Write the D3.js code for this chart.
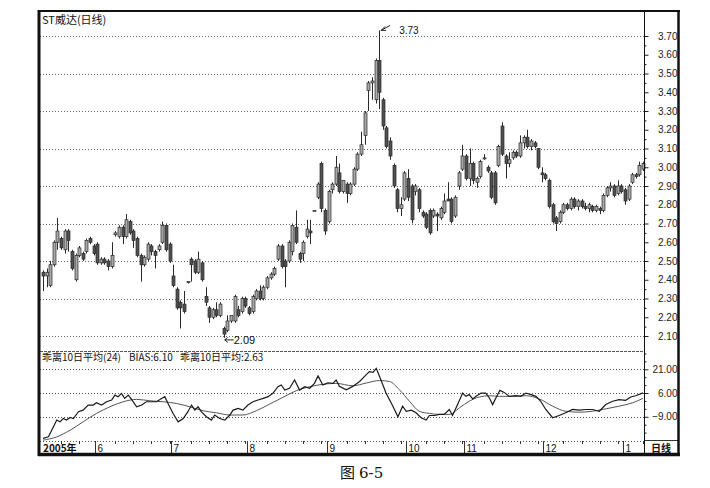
<!DOCTYPE html>
<html><head><meta charset="utf-8">
<script src="https://cdn.jsdelivr.net/npm/d3@7/dist/d3.min.js"></script>
<style>body{margin:0;background:#fff;} svg{display:block;}</style>
</head><body>
<svg id="c" width="710" height="488"></svg>
<script>
// ---- data ----
const opens  = [2.44,2.42,2.37,2.48,2.60,2.62,2.56,2.66,2.55,2.40,2.53,2.54,2.55,2.62,2.58,2.59,2.49,2.51,2.50,2.47,2.64,2.63,2.68,2.63,2.71,2.66,2.62,2.53,2.48,2.51,2.58,2.55,2.56,2.60,2.69,2.59,2.42,2.35,2.28,2.27,2.39,2.51,2.50,2.44,2.49,2.31,2.25,2.20,2.24,2.21,2.14,2.13,2.18,2.18,2.24,2.23,2.30,2.25,2.23,2.30,2.34,2.30,2.36,2.41,2.43,2.51,2.58,2.50,2.50,2.55,2.68,2.54,2.54,2.63,2.66,2.77,2.84,3.02,2.77,2.71,2.88,2.91,2.97,2.87,2.91,2.86,2.91,2.99,3.07,3.17,3.41,3.45,3.36,3.57,3.36,3.21,3.14,3.01,2.88,2.78,2.83,2.94,2.90,2.87,2.88,2.76,2.75,2.77,2.74,2.75,2.73,2.76,2.83,2.83,2.74,2.90,2.99,3.06,2.94,3.02,2.92,2.95,3.05,3.00,2.97,2.97,3.01,3.22,3.06,3.02,3.05,3.08,3.06,3.13,3.16,3.11,3.13,3.10,2.97,2.96,2.93,2.80,2.73,2.71,2.76,2.80,2.78,2.83,2.79,2.82,2.79,2.78,2.79,2.77,2.78,2.77,2.85,2.89,2.90,2.86,2.90,2.88,2.83,2.92,2.96,2.96,2.99];
const highs  = [2.45,2.46,2.50,2.61,2.73,2.63,2.67,2.67,2.56,2.54,2.58,2.55,2.62,2.63,2.59,2.60,2.52,2.52,2.51,2.60,2.66,2.69,2.69,2.75,2.72,2.67,2.63,2.54,2.53,2.60,2.59,2.56,2.59,2.71,2.70,2.60,2.48,2.36,2.29,2.34,2.39,2.52,2.51,2.55,2.50,2.36,2.26,2.25,2.28,2.28,2.15,2.21,2.21,2.32,2.26,2.31,2.31,2.26,2.32,2.35,2.37,2.37,2.42,2.44,2.47,2.59,2.59,2.51,2.61,2.70,2.77,2.55,2.61,2.72,2.72,2.77,2.92,3.03,2.78,2.88,2.92,3.06,3.02,2.93,2.92,2.92,3.00,3.08,3.19,3.30,3.46,3.48,3.58,3.73,3.37,3.22,3.16,3.02,2.89,2.84,2.98,2.99,2.91,2.91,2.89,2.77,2.76,2.78,2.78,2.76,2.79,2.86,2.92,2.84,2.85,2.98,3.12,3.07,3.10,3.03,2.95,3.04,3.07,3.01,2.98,2.98,3.12,3.24,3.07,3.08,3.09,3.09,3.17,3.17,3.20,3.15,3.14,3.10,3.00,2.97,2.94,2.81,2.74,2.77,2.81,2.81,2.84,2.84,2.83,2.83,2.81,2.81,2.80,2.80,2.79,2.86,2.90,2.92,2.91,2.93,2.91,2.89,2.91,2.97,2.97,3.03,3.03];
const lows   = [2.34,2.36,2.36,2.47,2.56,2.56,2.54,2.55,2.45,2.39,2.52,2.50,2.54,2.59,2.53,2.48,2.48,2.48,2.45,2.46,2.63,2.62,2.59,2.62,2.64,2.57,2.52,2.39,2.47,2.50,2.53,2.46,2.55,2.59,2.55,2.49,2.36,2.24,2.14,2.22,2.38,2.39,2.43,2.43,2.39,2.26,2.17,2.19,2.20,2.20,2.09,2.12,2.17,2.17,2.20,2.22,2.25,2.21,2.22,2.29,2.29,2.29,2.35,2.40,2.42,2.50,2.46,2.36,2.49,2.53,2.59,2.49,2.50,2.62,2.59,2.77,2.83,2.76,2.64,2.70,2.86,2.90,2.86,2.86,2.81,2.85,2.90,2.98,3.06,3.12,3.30,3.36,3.34,3.31,3.20,3.10,3.04,2.89,2.76,2.74,2.82,2.82,2.70,2.85,2.76,2.73,2.67,2.64,2.73,2.66,2.72,2.75,2.82,2.70,2.73,2.88,2.98,2.93,2.90,2.91,2.89,2.94,3.04,2.97,2.83,2.80,3.00,3.06,2.94,3.00,3.04,3.05,3.05,3.10,3.10,3.09,3.10,2.99,2.92,2.93,2.78,2.70,2.66,2.70,2.75,2.77,2.77,2.78,2.77,2.78,2.77,2.76,2.76,2.76,2.75,2.76,2.84,2.87,2.84,2.85,2.86,2.80,2.82,2.91,2.94,2.95,2.98];
const closes = [2.42,2.44,2.48,2.60,2.66,2.57,2.66,2.61,2.46,2.53,2.57,2.51,2.61,2.60,2.54,2.49,2.51,2.49,2.47,2.53,2.65,2.68,2.63,2.72,2.65,2.61,2.53,2.48,2.52,2.59,2.55,2.53,2.58,2.69,2.56,2.50,2.37,2.25,2.25,2.23,2.39,2.48,2.44,2.51,2.40,2.28,2.20,2.24,2.21,2.27,2.11,2.18,2.21,2.31,2.21,2.30,2.26,2.22,2.31,2.34,2.30,2.36,2.41,2.43,2.46,2.58,2.47,2.47,2.60,2.69,2.60,2.51,2.60,2.67,2.65,2.77,2.91,2.78,2.66,2.87,2.91,3.00,2.87,2.93,2.86,2.91,2.99,3.07,3.12,3.29,3.45,3.46,3.57,3.40,3.22,3.11,3.06,2.90,2.78,2.80,2.97,2.84,2.72,2.90,2.78,2.74,2.68,2.65,2.77,2.74,2.78,2.82,2.82,2.71,2.84,2.97,3.06,2.94,3.02,2.93,2.94,3.03,3.05,2.98,2.84,2.81,3.11,3.07,3.02,3.04,3.08,3.06,3.13,3.16,3.11,3.14,3.11,3.00,2.96,2.94,2.79,2.71,2.70,2.76,2.80,2.78,2.83,2.79,2.82,2.79,2.78,2.80,2.77,2.79,2.77,2.85,2.89,2.90,2.85,2.90,2.87,2.82,2.90,2.96,2.95,3.01,3.02];

const monthTickDays   = [15, 36, 57, 79, 101, 117, 139, 161];
const monthTickLabels = ["6", "7", "8", "9", "10", "11", "12", "1"];
const firstLabel = "2005年";

const priceTicks = [3.70,3.60,3.50,3.40,3.30,3.20,3.10,3.00,2.90,2.80,2.70,2.60,2.50,2.40,2.30,2.20,2.10];
const priceGrid  = [3.70,3.50,3.30,3.10,2.90,2.70,2.50,2.30,2.10];

const biasDays = [0,1.5,2.9,3.8,4.7,5.6,6.5,7.5,8.4,9.8,11.1,12.5,13.9,14.8,16.2,17.6,19.0,19.9,20.8,21.7,22.6,23.6,24.5,25.9,27.3,28.6,30.0,31.4,32.8,33.7,34.6,36.0,37.4,38.8,40.1,41.1,42.0,42.9,43.8,45.2,46.6,47.5,48.9,50.3,51.7,52.6,54.0,55.3,56.7,58.1,59.5,60.9,62.3,63.6,65.0,65.9,66.9,68.2,69.6,71.0,72.4,73.8,75.1,76.1,77.4,78.8,80.2,81.1,82.0,83.9,85.7,87.6,88.9,90.3,91.3,92.2,93.5,94.9,96.8,98.2,99.5,100.5,101.9,103.2,104.6,106.0,106.9,108.3,109.7,111.0,112.4,113.3,114.7,116.1,117.0,117.9,118.9,119.8,121.2,122.5,123.5,124.4,125.3,126.4,127.6,129.0,130.8,132.2,133.6,135.0,136.4,137.7,139.1,141.0,142.8,144.6,146.5,148.3,150.2,152.0,153.9,155.7,157.6,159.4,161.2,162.6,164.0,166];
const biasValues = [-22.7,-21.7,-15.3,-11.1,-12.2,-10.1,-11.1,-9.4,-10.1,-5.8,-4.8,-1.6,-1.6,-0.1,-1.6,0.5,1.6,4.7,3.7,5.8,2.6,4.7,2.0,-2.7,-1.6,0.5,0.5,0.5,2.6,3.7,-0.6,-6.9,-12.2,-10.1,-5.8,-1.6,-4.8,-2.7,-5.8,-9.0,-11.1,-7.9,-10.1,-11.1,-7.9,-4.8,-3.7,-4.8,-1.6,0.5,1.6,2.6,3.7,5.8,10.0,11.1,7.9,9.0,14.2,7.9,10.0,9.0,12.1,16.8,11.1,12.5,12.1,14.2,10.2,8.1,10.2,13.3,16.4,19.5,19.1,21.6,14.3,6.0,-2.3,-9.0,-2.3,-5.5,-4.8,-6.5,-9.6,-11.1,-8.2,-8.2,-7.5,-7.5,-4.4,-8.2,-1.3,6.0,3.9,5.0,2.3,3.9,6.0,6.0,2.9,-1.3,2.9,7.7,6.4,3.9,4.3,3.9,6.0,5.0,3.9,0.8,-4.4,-9.6,-8.2,-6.5,-4.4,-4.8,-4.4,-4.4,-5.5,-1.3,0.8,1.8,1.4,3.5,4.3,6.1];

const maDays   = [0,3.8,7.5,11.1,14.8,18.5,22.2,25.9,29.6,33.2,36.9,40.6,44.3,48.0,51.7,55.3,59.0,62.7,66.4,70.1,73.8,77.4,81.1,85.7,89.4,93.1,95.9,98.6,101.4,104.1,106.9,109.7,112.4,115.2,117.9,120.7,123.5,126.2,129.9,133.6,137.3,141.0,144.6,148.3,152.0,155.7,159.4,163.1,166];
const maValues = [-23.8,-21.7,-17.5,-12.2,-6.9,-2.7,0.5,2.0,1.1,0.5,-0.6,-2.7,-5.2,-6.5,-7.9,-7.9,-5.2,-1.0,3.3,7.5,10.0,11.5,12.1,10.6,12.3,13.9,13.3,8.1,0.8,-5.5,-6.9,-7.5,-7.5,-3.4,0.8,3.5,4.3,3.9,3.9,4.3,2.3,-2.3,-5.5,-6.1,-5.5,-4.0,-2.3,-0.2,2.63];

const biasTicks = [21, 6, -9];
const biasGrid  = [21, 6, -9, -24];

// ---- drawing ----
const svg = d3.select("#c");
const SANS = "'Liberation Sans', Arial, 'Noto Sans CJK SC', sans-serif";
const CJK = "'Noto Sans CJK SC', 'Liberation Sans', sans-serif";
const n = opens.length;
const x = d3.scaleLinear().domain([0, n - 1]).range([43, 643]);
const y = d3.scaleLinear().domain([2.10, 3.70]).range([336, 36]);
const yb = d3.scaleLinear().domain([-24, 21]).range([440.5, 369.3]);
const L = 40, R = 644.5;

svg.append("rect").attr("width", 710).attr("height", 488).attr("fill", "#fff");

// grids
svg.append("g").selectAll("line").data(priceGrid).join("line")
  .attr("x1", L).attr("x2", R).attr("y1", d => Math.round(y(d)) + 0.5).attr("y2", d => Math.round(y(d)) + 0.5)
  .attr("stroke", "#666").attr("stroke-dasharray", "1,2");
svg.append("g").selectAll("line").data(biasGrid).join("line")
  .attr("x1", L).attr("x2", R).attr("y1", d => Math.round(yb(d)) + 0.5).attr("y2", d => Math.round(yb(d)) + 0.5)
  .attr("stroke", "#555").attr("stroke-dasharray", "1,2");

// panel separator
svg.append("line").attr("x1", L).attr("x2", R).attr("y1", 351.5).attr("y2", 351.5)
  .attr("stroke", "#555").attr("stroke-width", 1.2).attr("stroke-dasharray", "3,1");

// candles
const cg = svg.append("g");
d3.range(n).forEach(i => {
  const cx = Math.round(x(i)) + 0.5;
  const up = closes[i] >= opens[i];
  cg.append("line").attr("x1", cx).attr("x2", cx).attr("y1", y(highs[i])).attr("y2", y(lows[i]))
    .attr("stroke", "#2a2a2a").attr("stroke-width", 1);
  const top = y(Math.max(opens[i], closes[i])), bot = y(Math.min(opens[i], closes[i]));
  cg.append("rect").attr("x", cx - 1.5).attr("width", 3)
    .attr("y", top).attr("height", Math.max(1, bot - top))
    .attr("fill", up ? "#a8a8a8" : "#505050").attr("stroke", "#2a2a2a").attr("stroke-width", 0.7);
});

// annotations
const hiI = highs.indexOf(d3.max(highs)), loI = lows.indexOf(d3.min(lows));
const hx = x(hiI), hy = y(highs[hiI]);
svg.append("path").attr("d", `M${hx + 11},${hy - 5} L${hx + 2},${hy}`).attr("stroke", "#222").attr("fill", "none");
svg.append("path").attr("d", `M${hx + 2},${hy} l4,-4 M${hx + 2},${hy} l5,0`).attr("stroke", "#222").attr("fill", "none");
svg.append("text").attr("x", hx + 20).attr("y", hy + 4).text(d3.format(".2f")(highs[hiI]))
  .attr("font-family", SANS).attr("font-size", 10).attr("fill", "#111");
const lx = x(loI), ly = y(lows[loI]) + 2;
svg.append("path").attr("d", `M${lx + 10},${ly} L${lx + 1},${ly} M${lx + 1},${ly} l3,-2.5 M${lx + 1},${ly} l3,2.5`)
  .attr("stroke", "#222").attr("fill", "none");
svg.append("text").attr("x", lx + 10).attr("y", ly + 4).text(d3.format(".2f")(lows[loI]))
  .attr("font-family", SANS).attr("font-size", 11).attr("fill", "#111");

// bias lines
svg.append("path").datum(d3.range(maDays.length))
  .attr("d", d3.line().x(i => x(maDays[i])).y(i => yb(maValues[i])).curve(d3.curveMonotoneX))
  .attr("fill", "none").attr("stroke", "#555").attr("stroke-width", 1);
svg.append("path").datum(d3.range(biasDays.length))
  .attr("d", d3.line().x(i => x(biasDays[i])).y(i => yb(biasValues[i])))
  .attr("fill", "none").attr("stroke", "#1a1a1a").attr("stroke-width", 1.2);

// right axes
const pAxis = d3.axisRight(y).tickValues(priceTicks).tickFormat(d3.format(".2f")).tickSize(4).tickPadding(0);
const pg = svg.append("g").attr("transform", `translate(${R},0)`).call(pAxis);
pg.select(".domain").remove();
pg.selectAll("text").attr("x", 33).attr("text-anchor", "end").attr("font-family", SANS).attr("font-size", 10).attr("fill", "#222");
pg.selectAll("line").attr("stroke", "#222");
const pMinor = d3.axisRight(y).tickValues(priceTicks.slice(1).map(d => d + 0.05)).tickFormat("").tickSize(2);
const pm = svg.append("g").attr("transform", `translate(${R},0)`).call(pMinor);
pm.select(".domain").remove(); pm.selectAll("line").attr("stroke", "#222");

const bAxis = d3.axisRight(yb).tickValues(biasTicks).tickFormat(d3.format(".2f")).tickSize(4).tickPadding(0);
const bg = svg.append("g").attr("transform", `translate(${R},0)`).call(bAxis);
bg.select(".domain").remove();
bg.selectAll("text").attr("x", 33).attr("text-anchor", "end").attr("font-family", SANS).attr("font-size", 10).attr("fill", "#222");
bg.selectAll("line").attr("stroke", "#222");
const bMinor = d3.axisRight(yb).tickValues([31, 26, 16, 11, 1, -4, -14, -19]).tickFormat("").tickSize(2);
const bm = svg.append("g").attr("transform", `translate(${R},0)`).call(bMinor);
bm.select(".domain").remove(); bm.selectAll("line").attr("stroke", "#222");

// x axis strip
const xb = 441;
const minor = [];
let start = 0;
d3.range(n).forEach(d => {
  if (monthTickDays.includes(d)) start = d;
  else if ((d - start) % 5 === 0 && d > 0) minor.push(d);
});
svg.append("g").selectAll("line").data(minor).join("line")
  .attr("x1", d => Math.round(x(d)) + 0.5).attr("x2", d => Math.round(x(d)) + 0.5)
  .attr("y1", xb).attr("y2", xb + 3).attr("stroke", "#333");
const mg = svg.append("g").selectAll("g").data(monthTickDays).join("g")
  .attr("transform", d => `translate(${Math.round(x(d)) - 1.5},0)`);
mg.append("line").attr("x1", 0).attr("x2", 0).attr("y1", xb).attr("y2", 453).attr("stroke", "#333");
mg.append("text").attr("x", 2).attr("y", 452).text((d, i) => monthTickLabels[i])
  .attr("font-family", SANS).attr("font-size", 10).attr("fill", "#111");
svg.append("text").attr("x", 43).attr("y", 452).text(firstLabel)
  .attr("font-family", CJK).attr("font-size", 10).attr("font-weight", "bold").attr("fill", "#111");
svg.append("text").attr("x", 651).attr("y", 451.5).text("日线")
  .attr("font-family", CJK).attr("font-size", 10).attr("font-weight", "bold").attr("fill", "#111");
svg.append("line").attr("x1", R).attr("x2", 678).attr("y1", xb - 0.5).attr("y2", xb - 0.5).attr("stroke", "#333");

// titles
svg.append("text").attr("x", 42).attr("y", 24).text("ST威达(日线)")
  .attr("font-family", CJK).attr("font-size", 11).attr("fill", "#111");
const lastBias = d3.format(".2f")(biasValues[biasValues.length - 1]);
const lastMa = d3.format(".2f")(maValues[maValues.length - 1]);
[[42, "乖离10日平均(24)"], [129, "BIAS:" + lastBias], [180, "乖离10日平均:" + lastMa]].forEach(([tx, s]) => {
  svg.append("text").attr("x", tx).attr("y", 361).text(s)
    .attr("font-family", CJK).attr("font-size", 10).attr("fill", "#111");
});

// axis line and frame
svg.append("line").attr("x1", R).attr("x2", R).attr("y1", 11).attr("y2", 454).attr("stroke", "#111");
svg.append("line").attr("x1", 39).attr("x2", 39).attr("y1", 10).attr("y2", 456).attr("stroke", "#111").attr("stroke-width", 3);
svg.append("line").attr("x1", 38).attr("x2", 680).attr("y1", 11).attr("y2", 11).attr("stroke", "#111").attr("stroke-width", 2);
svg.append("line").attr("x1", 678.5).attr("x2", 678.5).attr("y1", 10).attr("y2", 456).attr("stroke", "#111").attr("stroke-width", 2.5);
svg.append("line").attr("x1", 38).attr("x2", 680).attr("y1", 454.5).attr("y2", 454.5).attr("stroke", "#111").attr("stroke-width", 3.5);

// caption
const cap = svg.append("text").attr("x", 340).attr("y", 478).attr("font-size", 15).attr("fill", "#111");
cap.append("tspan").attr("font-family", CJK).text("图");
cap.append("tspan").attr("font-family", "'DejaVu Serif', 'Liberation Serif', serif").attr("dx", 4).text("6-5");
</script>
</body></html>
